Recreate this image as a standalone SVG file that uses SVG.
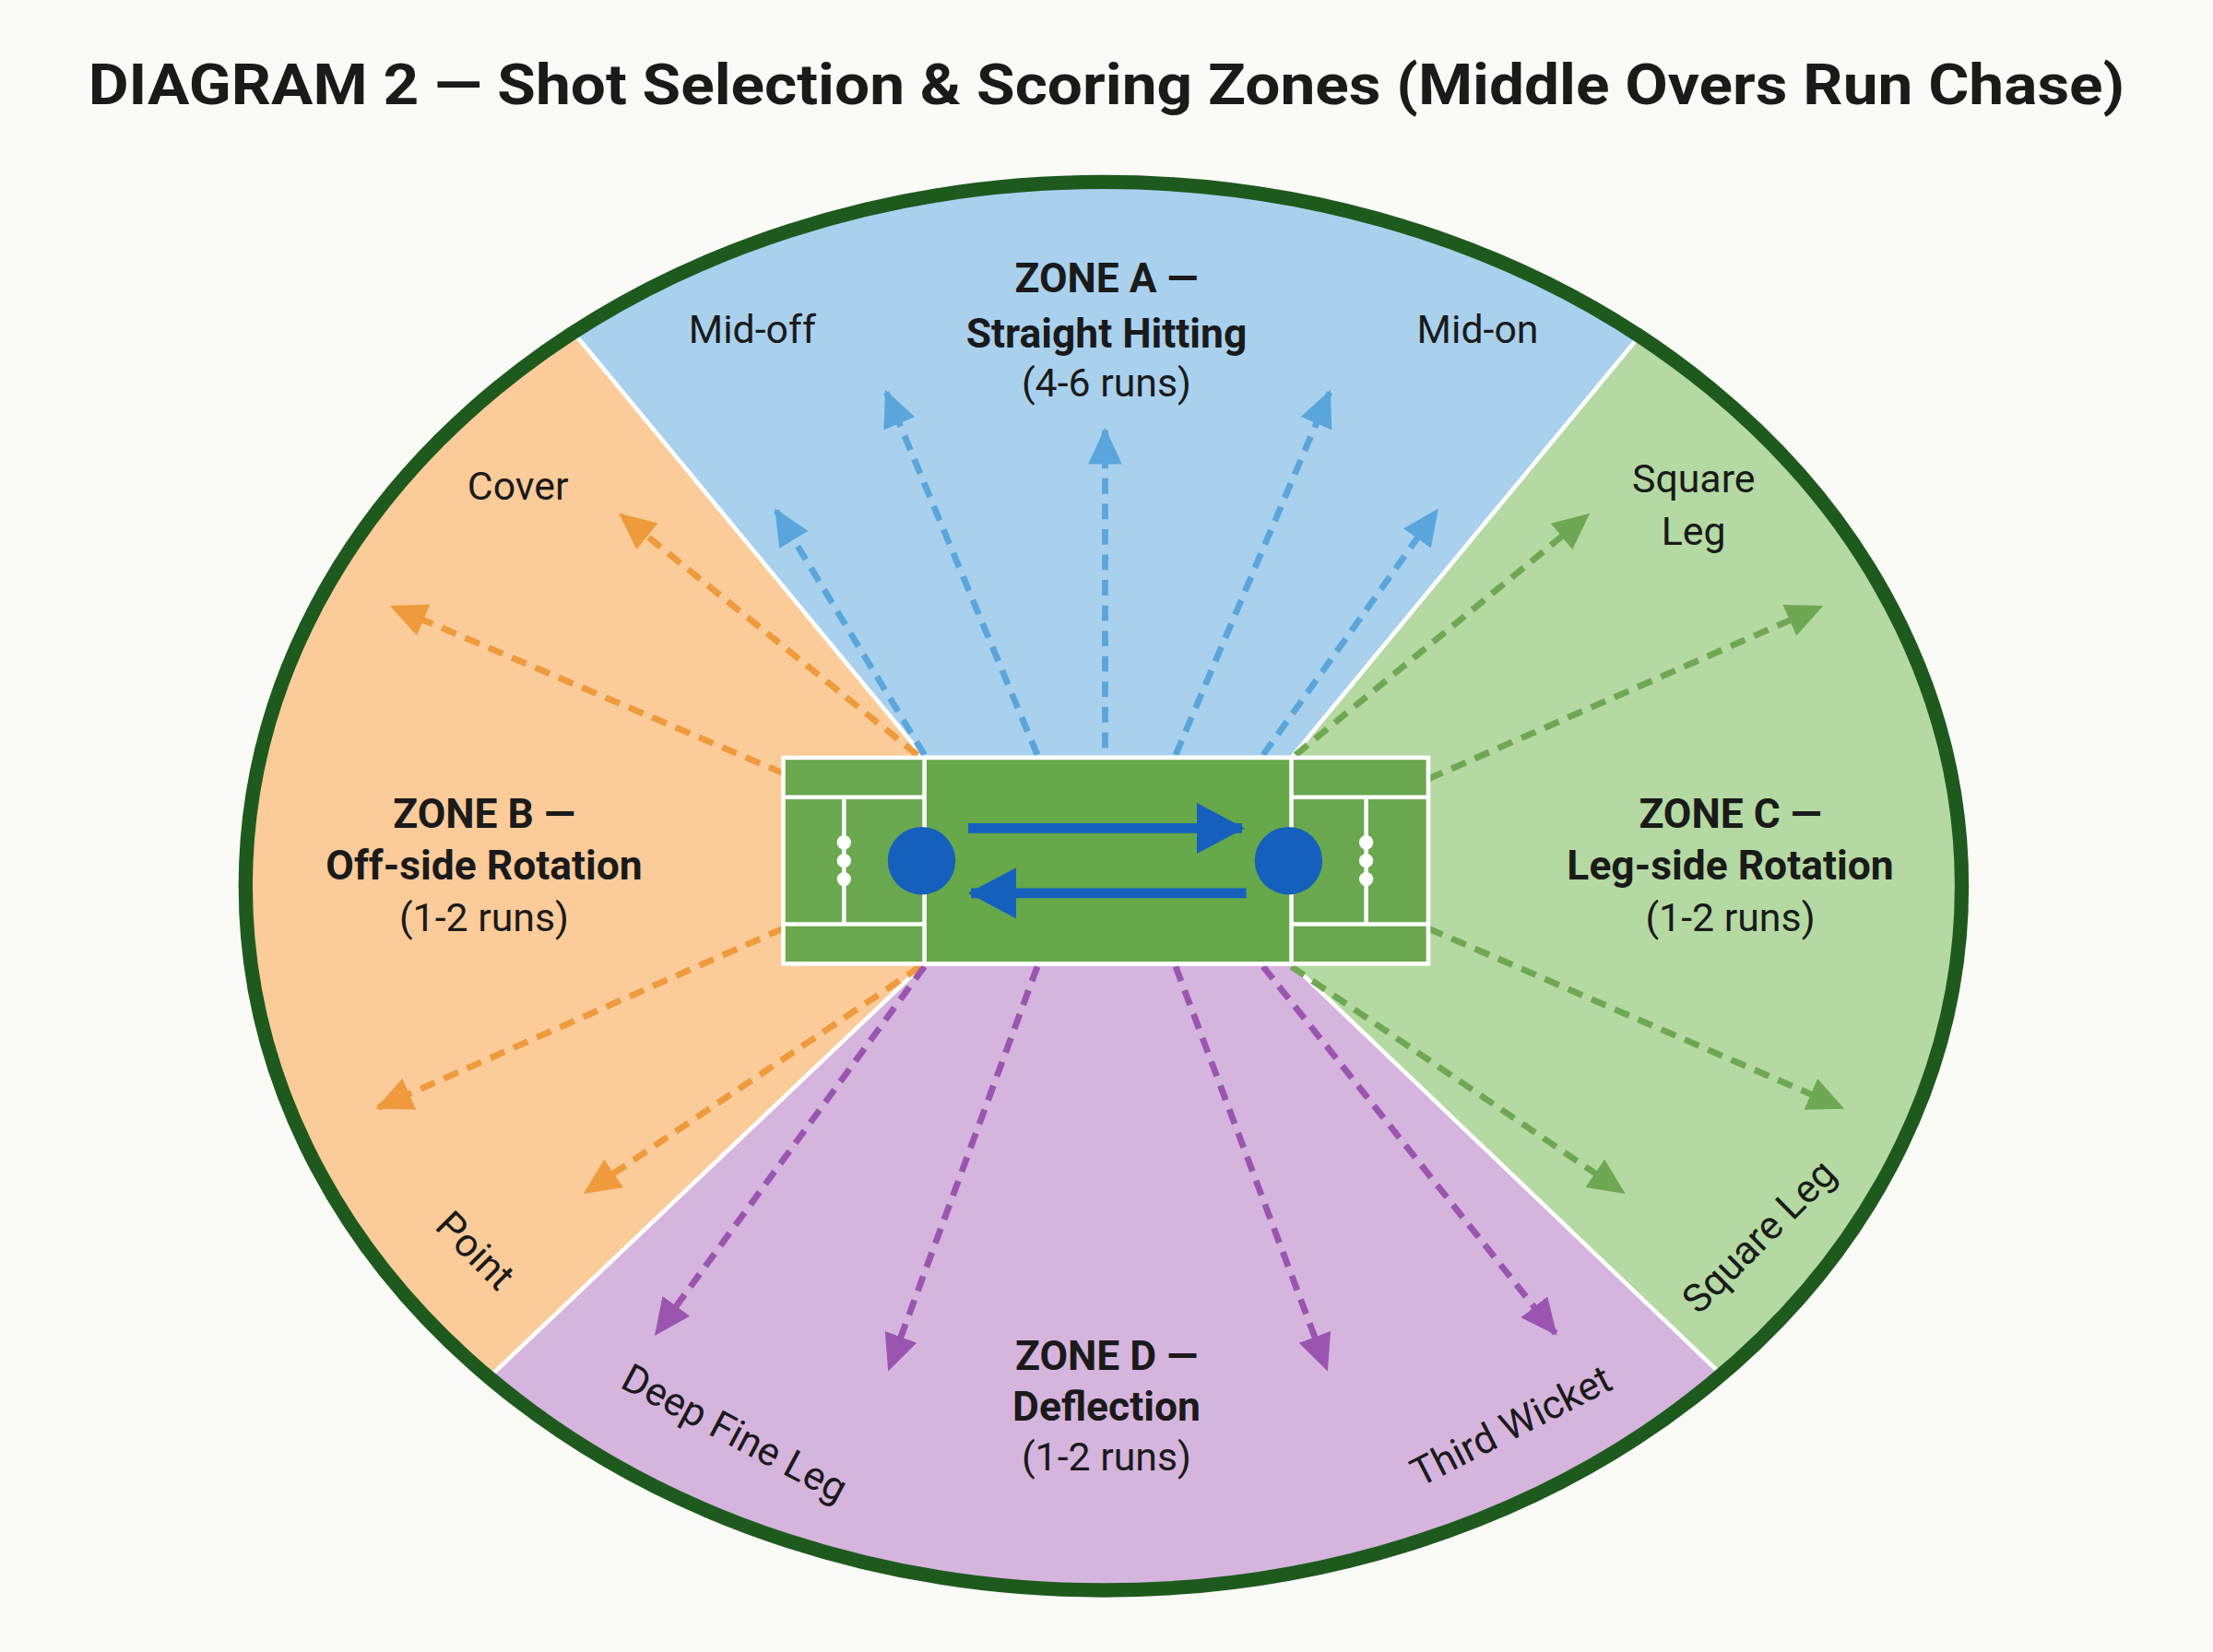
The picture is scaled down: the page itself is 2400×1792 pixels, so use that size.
<svg xmlns="http://www.w3.org/2000/svg" width="2400" height="1792" viewBox="0 0 2400 1792">
<style>
.t{font-family:Roboto,"Liberation Sans",sans-serif;fill:#1a1a1a;text-anchor:middle}
.lb{font-size:28px}
.zb{font-size:29px;font-weight:bold}
.dl{fill:none;stroke-width:4.5;stroke-dasharray:11 7}
.div{stroke:#fff;stroke-width:3;fill:none}
.pl{stroke:#fff;stroke-width:3;fill:none}
</style>
<defs>
<clipPath id="ov"><ellipse cx="782" cy="628" rx="608" ry="499"/></clipPath>
<marker id="mb" markerUnits="userSpaceOnUse" markerWidth="26" markerHeight="24" refX="24" refY="12" orient="auto"><path d="M0,0 L26,12 L0,24 Z" fill="#5aa6dc"/></marker>
<marker id="mo" markerUnits="userSpaceOnUse" markerWidth="26" markerHeight="24" refX="24" refY="12" orient="auto"><path d="M0,0 L26,12 L0,24 Z" fill="#ef9a3c"/></marker>
<marker id="mg" markerUnits="userSpaceOnUse" markerWidth="26" markerHeight="24" refX="24" refY="12" orient="auto"><path d="M0,0 L26,12 L0,24 Z" fill="#6fa853"/></marker>
<marker id="mp" markerUnits="userSpaceOnUse" markerWidth="26" markerHeight="24" refX="24" refY="12" orient="auto"><path d="M0,0 L26,12 L0,24 Z" fill="#9b55b0"/></marker>
<marker id="mr" markerUnits="userSpaceOnUse" markerWidth="34" markerHeight="36" refX="32" refY="18" orient="auto"><path d="M0,0 L34,18 L0,36 Z" fill="#1560bd"/></marker>
</defs>
<rect width="2400" height="1792" fill="#fafaf7"/>
<g transform="scale(1.5306)">
<text class="t" x="784" y="74" style="font-size:40px;font-weight:bold" textLength="1443" lengthAdjust="spacingAndGlyphs">DIAGRAM 2 — Shot Selection &amp; Scoring Zones (Middle Overs Run Chase)</text>
<g id="zones" clip-path="url(#ov)">
<polygon id="zoneA" points="655,537 212,0 1358,0 915,537" fill="#a9d1ee"/>
<polygon id="zoneB" points="655,537 212,0 0,0 0,1200 111,1200 655,683" fill="#fccb9a"/>
<polygon id="zoneD" points="655,683 111,1200 1456,1200 915,683" fill="#d5b5dd"/>
<polygon id="zoneC" points="915,537 1358,0 1568,0 1568,1200 1456,1200 915,683" fill="#b5d9a2"/>
<path class="div" d="M655,537 L212,0 M915,537 L1358,0 M655,683 L111,1200 M915,683 L1456,1200"/>
</g>
<ellipse id="boundary" cx="782" cy="628" rx="608" ry="499" fill="none" stroke="#1e5a1e" stroke-width="10"/>
<g id="connectors">
<g stroke="#5aa6dc" class="dl">
<line x1="735" y1="535" x2="628" y2="278" marker-end="url(#mb)"/>
<line x1="655" y1="535" x2="550" y2="362" marker-end="url(#mb)"/>
<line x1="783" y1="530" x2="783" y2="305" marker-end="url(#mb)"/>
<line x1="833" y1="535" x2="942" y2="278" marker-end="url(#mb)"/>
<line x1="895" y1="535" x2="1018" y2="362" marker-end="url(#mb)"/>
</g>
<g stroke="#ef9a3c" class="dl">
<line x1="650" y1="535" x2="440" y2="365" marker-end="url(#mo)"/>
<line x1="555" y1="548" x2="278" y2="430" marker-end="url(#mo)"/>
<line x1="555" y1="658" x2="268" y2="785" marker-end="url(#mo)"/>
<line x1="652" y1="685" x2="415" y2="845" marker-end="url(#mo)"/>
</g>
<g stroke="#6fa853" class="dl">
<line x1="918" y1="535" x2="1125" y2="365" marker-end="url(#mg)"/>
<line x1="1012" y1="552" x2="1290" y2="430" marker-end="url(#mg)"/>
<line x1="1012" y1="658" x2="1305" y2="785" marker-end="url(#mg)"/>
<line x1="915" y1="685" x2="1150" y2="845" marker-end="url(#mg)"/>
</g>
<g stroke="#9b55b0" class="dl">
<line x1="655" y1="685" x2="465" y2="945" marker-end="url(#mp)"/>
<line x1="735" y1="685" x2="630" y2="970" marker-end="url(#mp)"/>
<line x1="833" y1="685" x2="940" y2="970" marker-end="url(#mp)"/>
<line x1="895" y1="685" x2="1102" y2="945" marker-end="url(#mp)"/>
</g>
</g>
<g id="pitch">
<rect x="555" y="537" width="457" height="146" fill="#6aa84f" stroke="#fff" stroke-width="3"/>
<rect x="655" y="537" width="260" height="146" fill="#66a84a" stroke="#fff" stroke-width="3"/>
<path class="pl" d="M555,565 H655 M555,655 H655 M598,565 V655 M915,565 H1012 M915,655 H1012 M968,565 V655"/>
<g fill="#fff"><circle cx="598" cy="597" r="5"/><circle cx="598" cy="610" r="5"/><circle cx="598" cy="623" r="5"/><circle cx="968" cy="597" r="5"/><circle cx="968" cy="610" r="5"/><circle cx="968" cy="623" r="5"/></g>
<circle cx="653" cy="610" r="24" fill="#1560bd"/>
<circle cx="913" cy="610" r="24" fill="#1560bd"/>
<line x1="686" y1="587" x2="880" y2="587" stroke="#1560bd" stroke-width="7" marker-end="url(#mr)"/>
<line x1="883" y1="633" x2="688" y2="633" stroke="#1560bd" stroke-width="7" marker-end="url(#mr)"/>
</g>
<g id="labels">
<text class="t lb" x="533" y="243">Mid-off</text>
<text class="t lb" x="1047" y="243">Mid-on</text>
<text class="t zb" x="784" y="207">ZONE A —</text>
<text class="t zb" x="784" y="246">Straight Hitting</text>
<text class="t lb" x="784" y="281">(4-6 runs)</text>
<text class="t lb" x="367" y="354">Cover</text>
<text class="t lb" x="1200" y="349">Square</text>
<text class="t lb" x="1200" y="386">Leg</text>
<text class="t zb" x="343" y="587">ZONE B —</text>
<text class="t zb" x="343" y="623">Off-side Rotation</text>
<text class="t lb" x="343" y="660">(1-2 runs)</text>
<text class="t zb" x="1226" y="587">ZONE C —</text>
<text class="t zb" x="1226" y="623">Leg-side Rotation</text>
<text class="t lb" x="1226" y="660">(1-2 runs)</text>
<text class="t zb" x="784" y="971">ZONE D —</text>
<text class="t zb" x="784" y="1007">Deflection</text>
<text class="t lb" x="784" y="1042">(1-2 runs)</text>
<text class="t lb" transform="translate(330,893) rotate(45)">Point</text>
<text class="t lb" transform="translate(1253,883) rotate(-45)">Square Leg</text>
<text class="t lb" transform="translate(516,1024) rotate(28)">Deep Fine Leg</text>
<text class="t lb" transform="translate(1075,1019) rotate(-27)">Third Wicket</text>
</g>
</g>
</svg>
